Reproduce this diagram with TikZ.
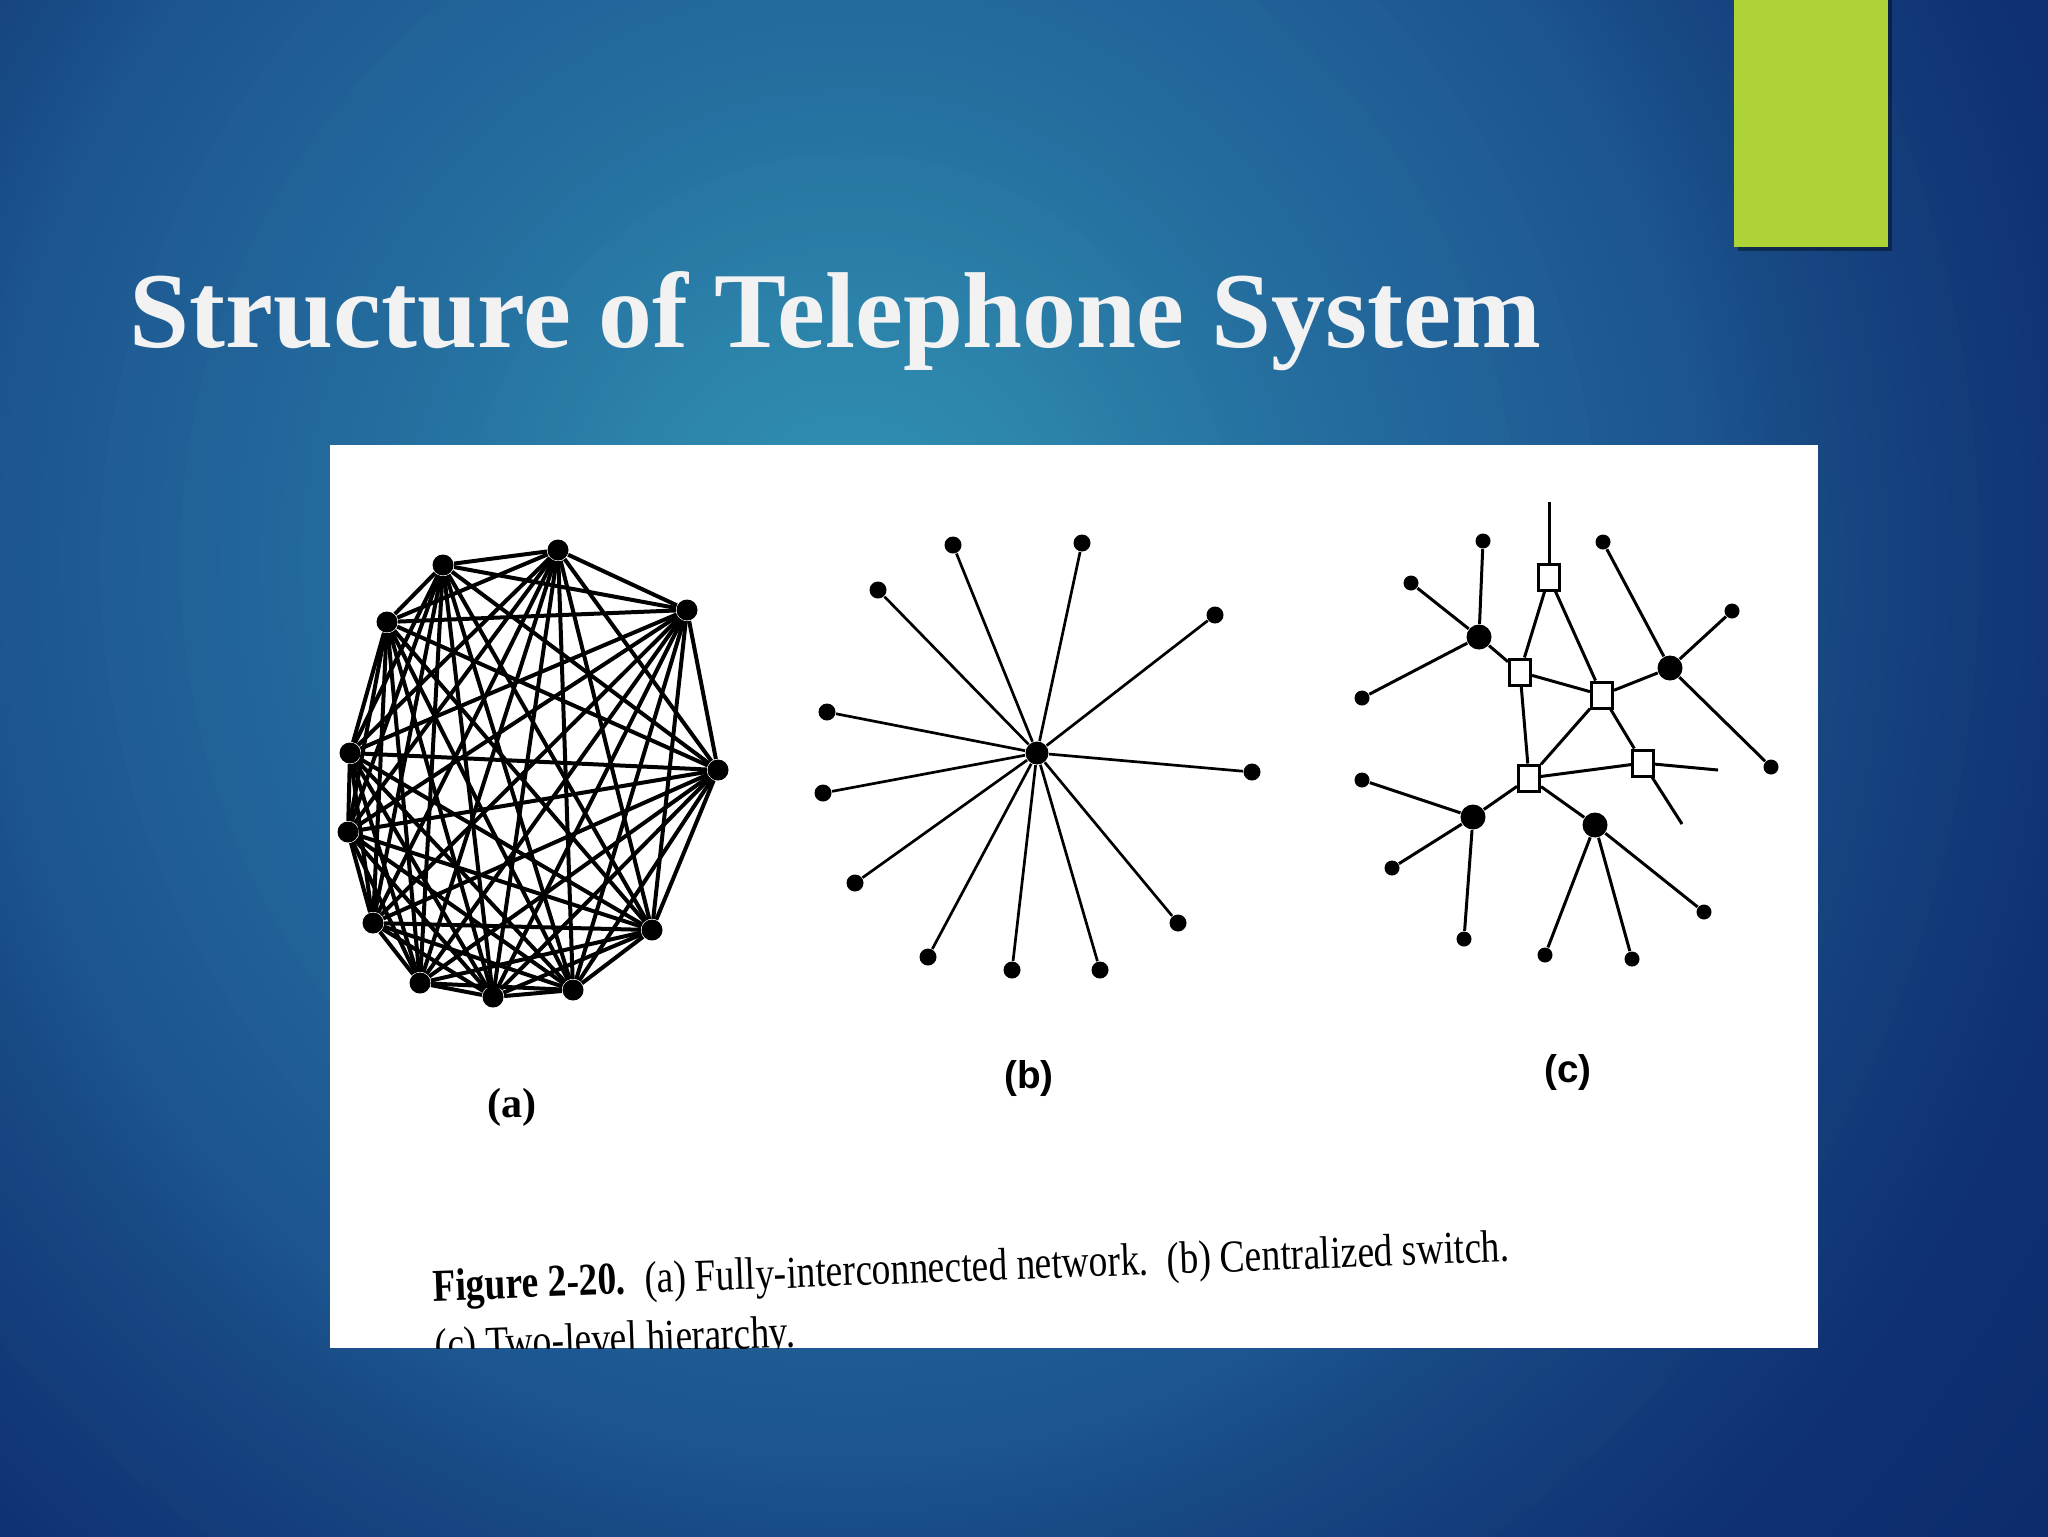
\documentclass[tikz,border=0pt]{standalone}
\usepackage{fontspec}
\setmainfont{Liberation Serif}
\setsansfont{Liberation Sans}
\usetikzlibrary{positioning}
\usetikzlibrary{shapes}

\definecolor{slidelight}{HTML}{3292B6}
\definecolor{slideteal}{HTML}{2D86AC}
\definecolor{slidemid}{HTML}{2570A0}
\definecolor{slideblue}{HTML}{1D5690}
\definecolor{slidedeep}{HTML}{184A84}
\definecolor{slidenavy}{HTML}{0F3272}
\definecolor{slidedark}{HTML}{0C2A6A}
\definecolor{accentgreen}{HTML}{AED336}
\definecolor{titlegrey}{HTML}{F2F2F2}

\tikzset{%
    meshdot/.style={circle, fill=black, inner sep=0pt, minimum size=2.1mm},
    meshline/.style={line width=0.4mm},
    stardot/.style={circle, fill=black, inner sep=0pt, minimum size=1.7mm},
    starhub/.style={circle, fill=black, inner sep=0pt, minimum size=2.3mm},
    starline/.style={line width=0.27mm},
    leafdot/.style={circle, fill=black, inner sep=0pt, minimum size=1.5mm},
    hubdot/.style={circle, fill=black, inner sep=0pt, minimum size=2.5mm},
    switchbox/.style={rectangle, draw=black, fill=white, line width=0.3mm, inner sep=0pt, minimum width=2.1mm, minimum height=2.6mm},
    treeline/.style={line width=0.3mm},
    captionline/.style={anchor=base west, rotate=2.1, xscale=0.82, inner sep=0pt, font=\fontsize{13}{15}\selectfont},
    partlabel/.style={font=\sffamily\bfseries\fontsize{11}{13}\selectfont},
}

\begin{document}
\begin{tikzpicture}[x=0.1mm,y=-0.1mm]
\useasboundingbox (0,0) rectangle (2048,1536);
\fill [slidedark] (0,0) rectangle (2048,1536);
\coordinate (glow) at (850,560);
\foreach \ca/\cb/\ra/\rb in {slidedark/slidenavy/1600/1250, slidenavy/slidedeep/1250/950,
                             slidedeep/slideblue/950/850, slideblue/slidemid/850/450,
                             slidemid/slideteal/450/200, slideteal/slidelight/200/0} {
    \foreach \t in {0,5,...,95} {
        \pgfmathsetmacro\r{\ra+(\rb-\ra)/100*\t}
        \fill [\cb!\t!\ca] (glow) ellipse [x radius=\r, y radius=1.05*\r];
    }
}
\fill [black, opacity=0.4] (1738,0) rectangle (1892,251);
\fill [accentgreen] (1734,0) rectangle (1888,247);
\node (title) [anchor=base west, inner sep=0pt, text=titlegrey, font=\bfseries\fontsize{30.7}{36}\selectfont] at (129,347) {Structure of Telephone System};
\fill [white] (330,445) rectangle (1818,1348);
% (a)
\foreach \i/\x/\y in {1/443/565, 2/558/550, 3/687/610, 4/718/770, 5/652/930, 6/573/990,
                      7/493/997, 8/420/983, 9/373/923, 10/348/832, 11/350/753, 12/387/622}
    \node (a\i) [meshdot] at (\x,\y) {};
\foreach \i in {1,...,11} {
    \pgfmathtruncatemacro\k{\i+1}
    \foreach \j in {\k,...,12}
        \draw [meshline] (a\i) -- (a\j);
}
\node (labela) [font=\bfseries\fontsize{12}{14}\selectfont] at (512,1107) {(a)};
% (b)
\node (b0) [starhub] at (1037,753) {};
\foreach \i/\x/\y in {1/953/545, 2/1082/543, 3/878/590, 4/1215/615, 5/827/712, 6/1252/772,
                      7/823/793, 8/855/883, 9/928/957, 10/1012/970, 11/1100/970, 12/1178/923} {
    \node (b\i) [stardot] at (\x,\y) {};
    \draw [starline] (b0) -- (b\i);
}
\node (labelb) [partlabel] at (1029,1078) {(b)};
% (c)
\node (s1) [switchbox] at (1549,577) {};
\node (s2) [switchbox] at (1520,672) {};
\node (s3) [switchbox] at (1602,695) {};
\node (s4) [switchbox] at (1643,763) {};
\node (s5) [switchbox] at (1529,778) {};
\node (h1) [hubdot] at (1479,637) {};
\node (h2) [hubdot] at (1670,668) {};
\node (h3) [hubdot] at (1473,817) {};
\node (h4) [hubdot] at (1595,825) {};
\coordinate (trunk) at (1549,502);
\coordinate (spur1) at (1718,770);
\coordinate (spur2) at (1682,824);
\foreach \n/\x/\y in {t1/1483/541, t2/1411/583, t3/1362/698, t4/1603/542, t5/1732/611, t6/1771/767,
                      t7/1362/780, t8/1392/868, t9/1464/939, t10/1545/955, t11/1632/959, t12/1704/912}
    \node (\n) [leafdot] at (\x,\y) {};
\foreach \u/\v in {s1/trunk, s1/s2, s1/s3, s2/s3, s2/s5, s3/s5, s3/s4, s5/s4, s4/spur1, s4/spur2,
                   h1/s2, h2/s3, h3/s5, h4/s5, h1/t1, h1/t2, h1/t3, h2/t4, h2/t5, h2/t6,
                   h3/t7, h3/t8, h3/t9, h4/t10, h4/t11, h4/t12}
    \draw [treeline] (\u) -- (\v);
\node (labelc) [partlabel] at (1568,1072) {(c)};
\begin{scope}
\clip (330,445) rectangle (1818,1348);
\node (caption1) [captionline] at (433,1301) {\textbf{Figure 2-20.}\ \ (a) Fully-interconnected network.\ \ (b) Centralized switch.};
\node (caption2) [captionline] at (435,1360) {(c) Two-level hierarchy.};
\end{scope}
\end{tikzpicture}
\end{document}
